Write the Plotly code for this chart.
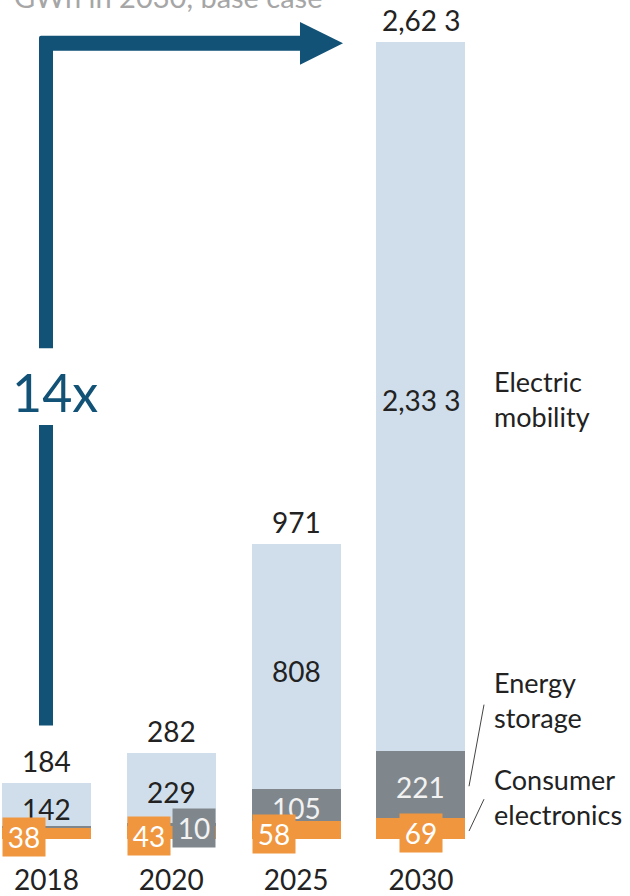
import plotly.graph_objects as go

# ---- data ----
years = ["2018", "2020", "2025", "2030"]
consumer_electronics = [38, 43, 58, 69]
energy_storage = [4, 10, 105, 221]
electric_mobility = [142, 229, 808, 2333]
totals = [184, 282, 971, 2623]
total_labels = ["184", "282", "971", "2,62 3"]
em_labels = ["142", "229", "808", "2,33 3"]
es_labels = ["", "10", "105", "221"]
ce_labels = ["38", "43", "58", "69"]
series_names = ["Consumer<br>electronics", "Energy<br>storage", "Electric<br>mobility"]
growth_label = "14x"
subtitle = "GWh in 2030, base case"

# ---- styles ----
FONT = "Lato"
C_EM = "#d0deeb"
C_ES = "#80878c"
C_CE = "#f0963f"
C_ARROW = "#115276"
C_TEXT = "#222222"
W, H = 630, 896
PH = 843  # plot height in px (bottom margin 53)
BAR_W = 0.713


def px(x):
    return x / W


def py(y):
    return (PH - y) / PH


fig = go.Figure()
for name, vals, col in [
    ("Consumer electronics", consumer_electronics, C_CE),
    ("Energy storage", energy_storage, C_ES),
    ("Electric mobility", electric_mobility, C_EM),
]:
    fig.add_trace(go.Bar(x=years, y=vals, name=name, marker=dict(color=col, line=dict(width=0)),
                         width=BAR_W, hoverinfo="skip"))

ann = []
num_font = dict(family=FONT, size=28, color=C_TEXT)
for i, yr in enumerate(years):
    ce, es, em = consumer_electronics[i], energy_storage[i], electric_mobility[i]
    # totals
    ann.append(dict(x=i, y=totals[i], xref="x", yref="y", text=total_labels[i], showarrow=False,
                    yanchor="middle", yshift=22, font=num_font))
    # electric mobility
    ann.append(dict(x=i, y=ce + es + em / 2, xref="x", yref="y", text=em_labels[i], showarrow=False,
                    yanchor="middle", yshift=-4, font=num_font))
    # energy storage
    if es_labels[i]:
        if es * 0.305 < 25:
            ann.append(dict(x=i + BAR_W / 2, y=ce + es / 2, xref="x", yref="y", text=es_labels[i],
                            showarrow=False, xanchor="right", yanchor="middle", yshift=-4,
                            width=42, height=38, bgcolor=C_ES, borderpad=0,
                            font=dict(family=FONT, size=28, color="#f2f2f2")))
        else:
            ann.append(dict(x=i, y=ce + es / 2, xref="x", yref="y", text=es_labels[i], showarrow=False,
                            yanchor="middle", yshift=-3, font=dict(family=FONT, size=28, color="#f2f2f2")))
    # consumer electronics (boxed)
    last = i == len(years) - 1
    ann.append(dict(x=(i if last else i - BAR_W / 2), y=ce / 2, xref="x", yref="y", text=ce_labels[i],
                    showarrow=False, xanchor=("center" if last else "left"), yanchor="middle", yshift=-4,
                    width=42, height=38, bgcolor=C_CE, borderpad=0,
                    font=dict(family=FONT, size=28, color="#ffffff")))

# series labels on the right
for txt, cy in zip(series_names, [801, 703, 401]):
    ann.append(dict(x=px(492), y=py(cy), xref="paper", yref="paper", text=txt, showarrow=False,
                    xanchor="left", yanchor="middle", align="left",
                    font=dict(family=FONT, size=27, color=C_TEXT)))

# growth label
ann.append(dict(x=px(55), y=py(394), xref="paper", yref="paper", text=growth_label, showarrow=False,
                xanchor="center", yanchor="middle", font=dict(family=FONT, size=52, color=C_ARROW)))

# subtitle at the top (clipped by the page edge, as in the reference)
ann.append(dict(x=px(325), y=py(-4), xref="paper", yref="paper", text=subtitle, showarrow=False,
                xanchor="right", yanchor="middle", font=dict(family=FONT, size=29, color="#a6a6a6")))

shapes = []
# arrow: upper L part
shapes.append(dict(type="path", xref="paper", yref="paper", fillcolor=C_ARROW, line=dict(width=0),
                   path=(f"M{px(39)},{py(350)} L{px(39)},{py(38)} Q{px(39)},{py(36)} {px(41)},{py(36)} "
                         f"L{px(301)},{py(36)} L{px(301)},{py(51)} L{px(53)},{py(51)} L{px(53)},{py(350)} Z")))
# arrow: lower vertical part
shapes.append(dict(type="path", xref="paper", yref="paper", fillcolor=C_ARROW, line=dict(width=0),
                   path=f"M{px(39)},{py(427)} L{px(53)},{py(427)} L{px(53)},{py(729)} L{px(39)},{py(729)} Z"))
# arrow head
shapes.append(dict(type="path", xref="paper", yref="paper", fillcolor=C_ARROW, line=dict(width=0),
                   path=f"M{px(300)},{py(22)} L{px(343)},{py(43.5)} L{px(300)},{py(65)} Z"))
# leader lines
shapes.append(dict(type="line", xref="paper", yref="paper", x0=px(484), y0=py(708), x1=px(469), y1=py(790),
                   line=dict(color="#444444", width=1)))
shapes.append(dict(type="line", xref="paper", yref="paper", x0=px(484), y0=py(803), x1=px(469), y1=py(835),
                   line=dict(color="#444444", width=1)))

fig.update_layout(
    width=W, height=H,
    margin=dict(l=0, r=0, t=0, b=H - PH),
    barmode="stack",
    showlegend=False,
    plot_bgcolor="white", paper_bgcolor="white",
    annotations=ann, shapes=shapes,
    xaxis=dict(type="category", range=[-0.3726, 4.675], showgrid=False, zeroline=False, showline=False,
               ticks="", tickfont=dict(family=FONT, size=28, color=C_TEXT), ticklabelstandoff=22,
               fixedrange=True),
    yaxis=dict(range=[0, 2760], visible=False, fixedrange=True),
    font=dict(family=FONT),
)

fig.write_html("out.html", config={"displayModeBar": False})
